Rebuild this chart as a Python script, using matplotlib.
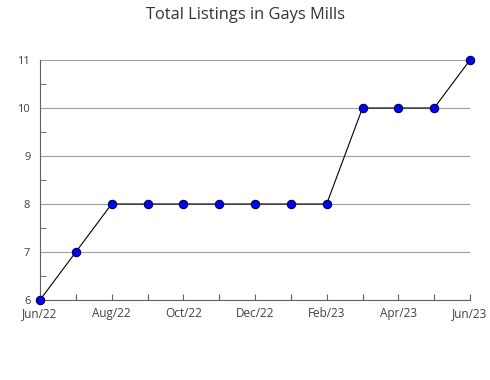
import numpy as np
from matplotlib import pyplot as plt
from matplotlib.ticker import MultipleLocator

## DATA

months = ['Jun/22', 'Jul/22', 'Aug/22', 'Sep/22', 'Oct/22', 'Nov/22', 'Dec/22',
          'Jan/23', 'Feb/23', 'Mar/23', 'Apr/23', 'May/23', 'Jun/23']
listings = [6, 7, 8, 8, 8, 8, 8, 8, 8, 10, 10, 10, 11]

plt.rcParams['font.family'] = ['Open Sans', 'DejaVu Sans']

fig = plt.figure(figsize=(4.9, 3.8), dpi=100)
ax = fig.add_axes([40/490, 1 - 300/380, 430/490, 240/380])

x = np.arange(len(months))
ax.plot(x, listings, color='black', lw=0.8, marker='o', ms=6,
        mfc='#0000ff', mec='#000044', mew=0.8, zorder=3, clip_on=False)

ax.set_xlim(0, len(months) - 1)
ax.set_ylim(6, 11)
ax.set_xticks(x)
ax.set_xticklabels([m if i % 2 == 0 else '' for i, m in enumerate(months)])
ax.yaxis.set_major_locator(MultipleLocator(1))
ax.yaxis.set_minor_locator(MultipleLocator(0.5))
ax.grid(axis='y', which='major', color='#a0a0a0', lw=0.8)
ax.set_axisbelow(True)

for s in ['top', 'right']:
    ax.spines[s].set_visible(False)
for s in ['left', 'bottom']:
    ax.spines[s].set_color('#606060')
    ax.spines[s].set_linewidth(0.8)

ax.tick_params(axis='x', direction='in', length=4, color='#606060',
               labelsize=8.5, labelcolor='#404040', pad=5)
ax.tick_params(axis='y', which='major', length=0, labelsize=8,
               labelcolor='#404040', pad=7)
ax.tick_params(axis='y', which='minor', direction='in', length=4, color='#606060')

fig.suptitle('Total Listings in Gays Mills', x=245/490, y=1 - 7/380,
             fontsize=11.8, color='#333333', va='top')

fig.savefig('out.png', dpi=100)
